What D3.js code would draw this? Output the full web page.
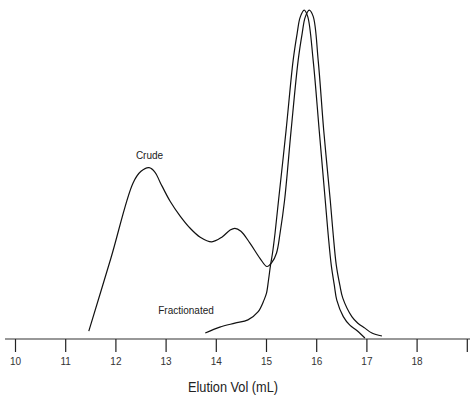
<!DOCTYPE html>
<html>
<head>
<meta charset="utf-8">
<script src="https://cdn.jsdelivr.net/npm/d3@7"></script>
<style>
  html, body { margin: 0; padding: 0; background: #fff; }
  svg { display: block; }
  text { font-family: "Liberation Sans", Arial, Helvetica, sans-serif; }
</style>
</head>
<body>
<svg id="chart" width="470" height="396"></svg>
<script>
// Elution volume (mL) and relative absorbance (0-100)
const crudeVol = [11.47, 11.91, 12.35, 12.51, 12.67, 12.79, 12.89, 13.09, 13.29, 13.49, 13.69, 13.92, 14.12, 14.28, 14.38, 14.50, 14.68, 14.88, 15.02, 15.12, 15.21, 15.28, 15.37, 15.50, 15.64, 15.72, 15.78, 15.86, 15.94, 16.04, 16.15, 16.28, 16.34, 16.40, 16.47, 16.53, 16.71, 16.83, 16.97, 17.11, 17.31];
const crudeAbs = [2.4, 24.5, 47.3, 50.9, 52.0, 50.6, 47.6, 41.8, 37.3, 33.6, 30.9, 29.5, 30.9, 33.0, 33.6, 32.7, 29.1, 24.5, 22.0, 23.3, 26.1, 32.1, 42.1, 63.3, 84.5, 92.7, 97.6, 99.8, 97.9, 84.5, 63.3, 42.1, 31.5, 22.4, 16.4, 12.4, 6.8, 4.8, 3.3, 1.8, 0.9];

const fracVol = [13.79, 14.08, 14.38, 14.64, 14.84, 14.96, 15.01, 15.05, 15.09, 15.13, 15.18, 15.25, 15.40, 15.54, 15.62, 15.68, 15.76, 15.83, 15.94, 16.06, 16.18, 16.24, 16.30, 16.36, 16.41, 16.54, 16.67, 16.81, 16.97];
const fracAbs = [1.8, 3.6, 4.8, 5.8, 8.2, 11.8, 13.9, 17.9, 22.4, 26.1, 32.1, 42.1, 63.3, 84.5, 92.7, 97.6, 99.8, 97.9, 84.5, 63.3, 42.1, 31.5, 22.4, 16.4, 11.8, 6.8, 4.2, 2.6, 0.3];

const tickValues = [10, 11, 12, 13, 14, 15, 16, 17, 18, 19];
const tickLabels = ["10", "11", "12", "13", "14", "15", "16", "17", "18", ""];
const seriesNames = ["Crude", "Fractionated"];
const axisTitle = "Elution Vol (mL)";

const svg = d3.select("#chart");
const baseY = 339;

const x = d3.scaleLinear().domain([10, 19]).range([15, 466.8]);
const y = d3.scaleLinear().domain([0, 100]).range([baseY, 9.5]);

const line = d3.line()
  .x(d => x(d[0]))
  .y(d => y(d[1]))
  .curve(d3.curveCatmullRom.alpha(0.5));

const crude = crudeVol.map((v, i) => [v, crudeAbs[i]]);
const frac = fracVol.map((v, i) => [v, fracAbs[i]]);

// axis baseline
svg.append("line")
  .attr("x1", 5).attr("x2", 470)
  .attr("y1", baseY).attr("y2", baseY)
  .attr("stroke", "#333").attr("stroke-width", 1.2);

const axis = d3.axisBottom(x)
  .tickValues(tickValues)
  .tickSize(13)
  .tickPadding(6)
  .tickFormat((d, i) => tickLabels[i]);

const g = svg.append("g")
  .attr("transform", `translate(0,${baseY})`)
  .call(axis);
g.select(".domain").remove();
g.selectAll(".tick line").attr("stroke", "#222").attr("stroke-width", 1.2);
g.selectAll(".tick text")
  .attr("fill", "#333")
  .style("font-size", "10px")
  .style("font-family", "'Liberation Sans', Arial, sans-serif");

// curves
svg.append("path").datum(crude)
  .attr("d", line)
  .attr("fill", "none").attr("stroke", "#111").attr("stroke-width", 1.2);
svg.append("path").datum(frac)
  .attr("d", line)
  .attr("fill", "none").attr("stroke", "#111").attr("stroke-width", 1.2);

// labels
svg.append("text")
  .attr("x", 149.5).attr("y", 158.5)
  .attr("text-anchor", "middle")
  .style("font-size", "10px").attr("fill", "#222")
  .text(seriesNames[0]);
svg.append("text")
  .attr("x", 186).attr("y", 313.5)
  .attr("text-anchor", "middle")
  .style("font-size", "10px").attr("fill", "#222")
  .text(seriesNames[1]);

svg.append("text")
  .attr("x", 233).attr("y", 392)
  .attr("text-anchor", "middle")
  .attr("textLength", 90).attr("lengthAdjust", "spacingAndGlyphs")
  .style("font-size", "14px").attr("fill", "#222")
  .text(axisTitle);
</script>
</body>
</html>
